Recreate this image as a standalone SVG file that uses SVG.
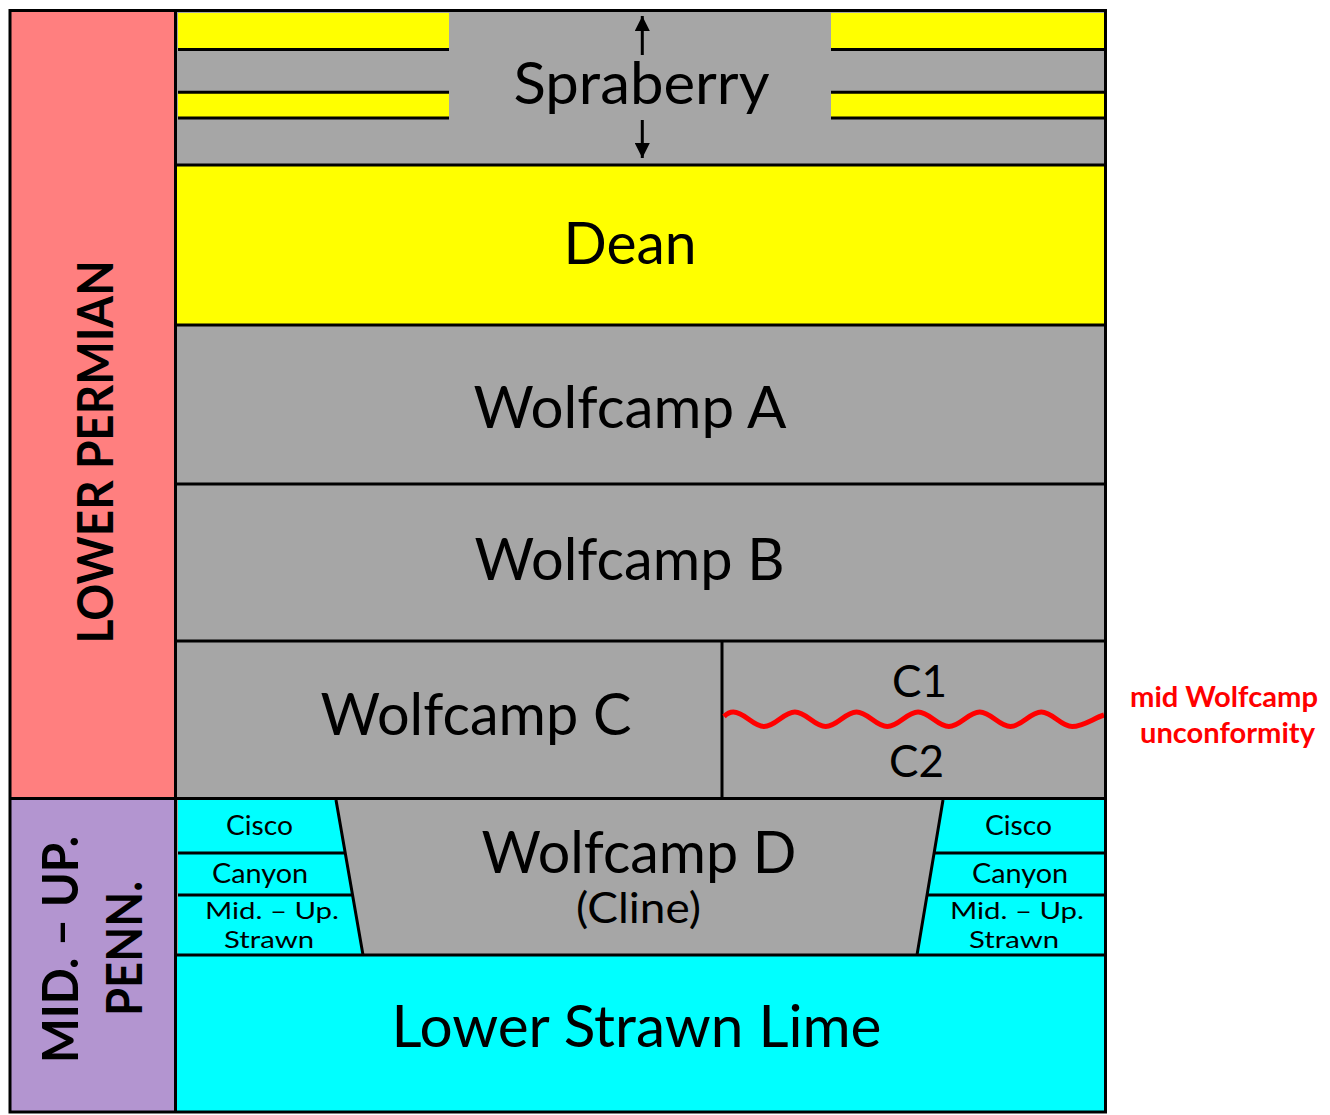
<svg xmlns="http://www.w3.org/2000/svg" width="1330" height="1115" viewBox="0 0 1330 1115">
  <defs>
    <style>
      .lbl{font-family:Lato,"Open Sans","Liberation Sans",sans-serif;fill:#000;text-anchor:middle}
      .big{font-size:59px}
      .mid{font-size:45px}
      .cl{font-size:42px}
      .sm{font-size:26px}
      .xs{font-size:24px}
      .era{font-family:Lato,"Liberation Sans",sans-serif;font-weight:bold;font-size:49px;fill:#000;text-anchor:middle}
      .note{font-family:Lato,"Liberation Sans",sans-serif;font-weight:bold;font-size:29px;fill:#f00;text-anchor:middle}
      .ln{stroke:#000;stroke-width:3;fill:none}
      .gray{fill:#a6a6a6}
      .yel{fill:#ff0}
      .cyan{fill:#0ff}
    </style>
    <marker id="ah" viewBox="0 0 15 15" refX="15" refY="7.5" markerWidth="15" markerHeight="15" markerUnits="userSpaceOnUse" orient="auto">
      <path d="M0,0 L15,7.5 L0,15 Z" fill="#000"/>
    </marker>
  </defs>

  <!-- era column -->
  <g id="era-lower-permian">
    <rect x="10" y="10" width="165" height="788" fill="#ff7f7f"/>
    <text class="era" transform="translate(113,452) rotate(-90)" textLength="383" lengthAdjust="spacingAndGlyphs">LOWER PERMIAN</text>
  </g>
  <g id="era-penn">
    <rect x="10" y="798" width="165" height="314" fill="#b395d0"/>
    <text class="era" transform="translate(78,949.5) rotate(-90)" textLength="227" lengthAdjust="spacingAndGlyphs">MID. – UP.</text>
    <text class="era" transform="translate(142,948.5) rotate(-90)" textLength="135" lengthAdjust="spacingAndGlyphs">PENN.</text>
  </g>

  <!-- Spraberry with sandstone stripes -->
  <g id="spraberry">
    <rect class="gray" x="175" y="10" width="931" height="155"/>
    <rect class="yel" x="178" y="13" width="271" height="36.5"/>
    <rect class="yel" x="178" y="92" width="271" height="26"/>
    <rect class="yel" x="831" y="13" width="273" height="36.5"/>
    <rect class="yel" x="831" y="92" width="273" height="26"/>
    <path class="ln" stroke-width="2.6" d="M178,49.5H449M178,92.3H449M178,118H449M831,49.5H1104M831,92.3H1104M831,118H1104"/>
    <text class="lbl big" x="641.5" y="104" textLength="256" lengthAdjust="spacingAndGlyphs">Spraberry</text>
  </g>

  <g id="dean">
    <rect class="yel" x="175" y="165" width="931" height="160"/>
    <text class="lbl big" x="630" y="264" textLength="133" lengthAdjust="spacingAndGlyphs">Dean</text>
  </g>

  <g id="wolfcamp-a">
    <rect class="gray" x="175" y="325" width="931" height="159"/>
    <text class="lbl big" x="630" y="428" textLength="313" lengthAdjust="spacingAndGlyphs">Wolfcamp A</text>
  </g>

  <g id="wolfcamp-b">
    <rect class="gray" x="175" y="484" width="931" height="157"/>
    <text class="lbl big" x="629.5" y="580" textLength="310" lengthAdjust="spacingAndGlyphs">Wolfcamp B</text>
  </g>

  <g id="wolfcamp-c">
    <rect class="gray" x="175" y="641" width="931" height="157"/>
    <text class="lbl big" x="476" y="735" textLength="311" lengthAdjust="spacingAndGlyphs">Wolfcamp C</text>
    <line class="ln" x1="722" y1="641" x2="722" y2="798"/>
    <text class="lbl mid" x="919.5" y="697" textLength="55" lengthAdjust="spacingAndGlyphs">C1</text>
    <text class="lbl mid" x="916.5" y="777" textLength="55" lengthAdjust="spacingAndGlyphs">C2</text>
    <!-- unconformity surface between C1 and C2 -->
    <path fill="none" stroke="#f00" stroke-width="5" d="M724,716.5 C727.5,713 730,712 733.3,712 C744.5,712 752.9,726.5 764.1,726.5 S783.7,712 794.9,712 S814.5,726.5 825.7,726.5 S845.3,712 856.5,712 S876.1,726.5 887.3,726.5 S906.9,712 918.1,712 S937.7,726.5 948.9,726.5 S968.5,712 979.7,712 S999.3,726.5 1010.5,726.5 S1030.1,712 1041.3,712 S1060.9,726.5 1072.1,726.5 C1083.3,726.5 1094,718 1104,715"/>
  </g>

  <g id="wolfcamp-d">
    <rect class="gray" x="175" y="798" width="931" height="157"/>
    <text class="lbl big" x="639" y="873" textLength="315" lengthAdjust="spacingAndGlyphs">Wolfcamp D</text>
    <text class="lbl cl" x="638.5" y="923" textLength="125" lengthAdjust="spacingAndGlyphs">(Cline)</text>
  </g>

  <g id="shelf-left">
    <polygon class="cyan" points="178,800 336,800 363,955 178,955"/>
    <path class="ln" d="M336,800 L363,955 M178,853 H345.2 M178,895 H352.5"/>
    <text class="lbl sm" x="259.5" y="835" textLength="67" lengthAdjust="spacingAndGlyphs">Cisco</text>
    <text class="lbl sm" x="260" y="883" textLength="96" lengthAdjust="spacingAndGlyphs">Canyon</text>
    <text class="lbl xs" x="272" y="919" textLength="134" lengthAdjust="spacingAndGlyphs">Mid. – Up.</text>
    <text class="lbl xs" x="269" y="948" textLength="90" lengthAdjust="spacingAndGlyphs">Strawn</text>
  </g>

  <g id="shelf-right">
    <polygon class="cyan" points="943,800 1104,800 1104,955 917,955"/>
    <path class="ln" d="M943,800 L917,955 M934.1,853 H1104 M927.1,895 H1104"/>
    <text class="lbl sm" x="1018.5" y="835" textLength="67" lengthAdjust="spacingAndGlyphs">Cisco</text>
    <text class="lbl sm" x="1020" y="883" textLength="96" lengthAdjust="spacingAndGlyphs">Canyon</text>
    <text class="lbl xs" x="1017" y="919" textLength="134" lengthAdjust="spacingAndGlyphs">Mid. – Up.</text>
    <text class="lbl xs" x="1014" y="948" textLength="90" lengthAdjust="spacingAndGlyphs">Strawn</text>
  </g>

  <g id="lower-strawn-lime">
    <rect class="cyan" x="175" y="955" width="931" height="157"/>
    <text class="lbl big" x="636.5" y="1047" textLength="490" lengthAdjust="spacingAndGlyphs">Lower Strawn Lime</text>
  </g>

  <!-- unit boundaries and frame -->
  <g id="frame">
    <path class="ln" stroke-width="3.5" d="M175,165 H1106 M175,325 H1106 M175,484 H1106 M175,641 H1106 M10,798.5 H1106 M175,955 H1106"/>
    <line class="ln" stroke-width="5" x1="175.5" y1="10" x2="175.5" y2="1112"/>
    <rect class="ln" stroke-width="5.5" x="10" y="10.5" width="1095.5" height="1101.5"/>
  </g>

  <g id="connectors">
    <line class="ln" x1="642.3" y1="55" x2="642.3" y2="16" marker-end="url(#ah)"/>
    <line class="ln" x1="642.3" y1="120" x2="642.3" y2="158" marker-end="url(#ah)"/>
  </g>

  <g id="note-unconformity">
    <text class="note" x="1224" y="707" textLength="188" lengthAdjust="spacingAndGlyphs">mid Wolfcamp</text>
    <text class="note" x="1227.5" y="743" textLength="175" lengthAdjust="spacingAndGlyphs">unconformity</text>
  </g>
</svg>
